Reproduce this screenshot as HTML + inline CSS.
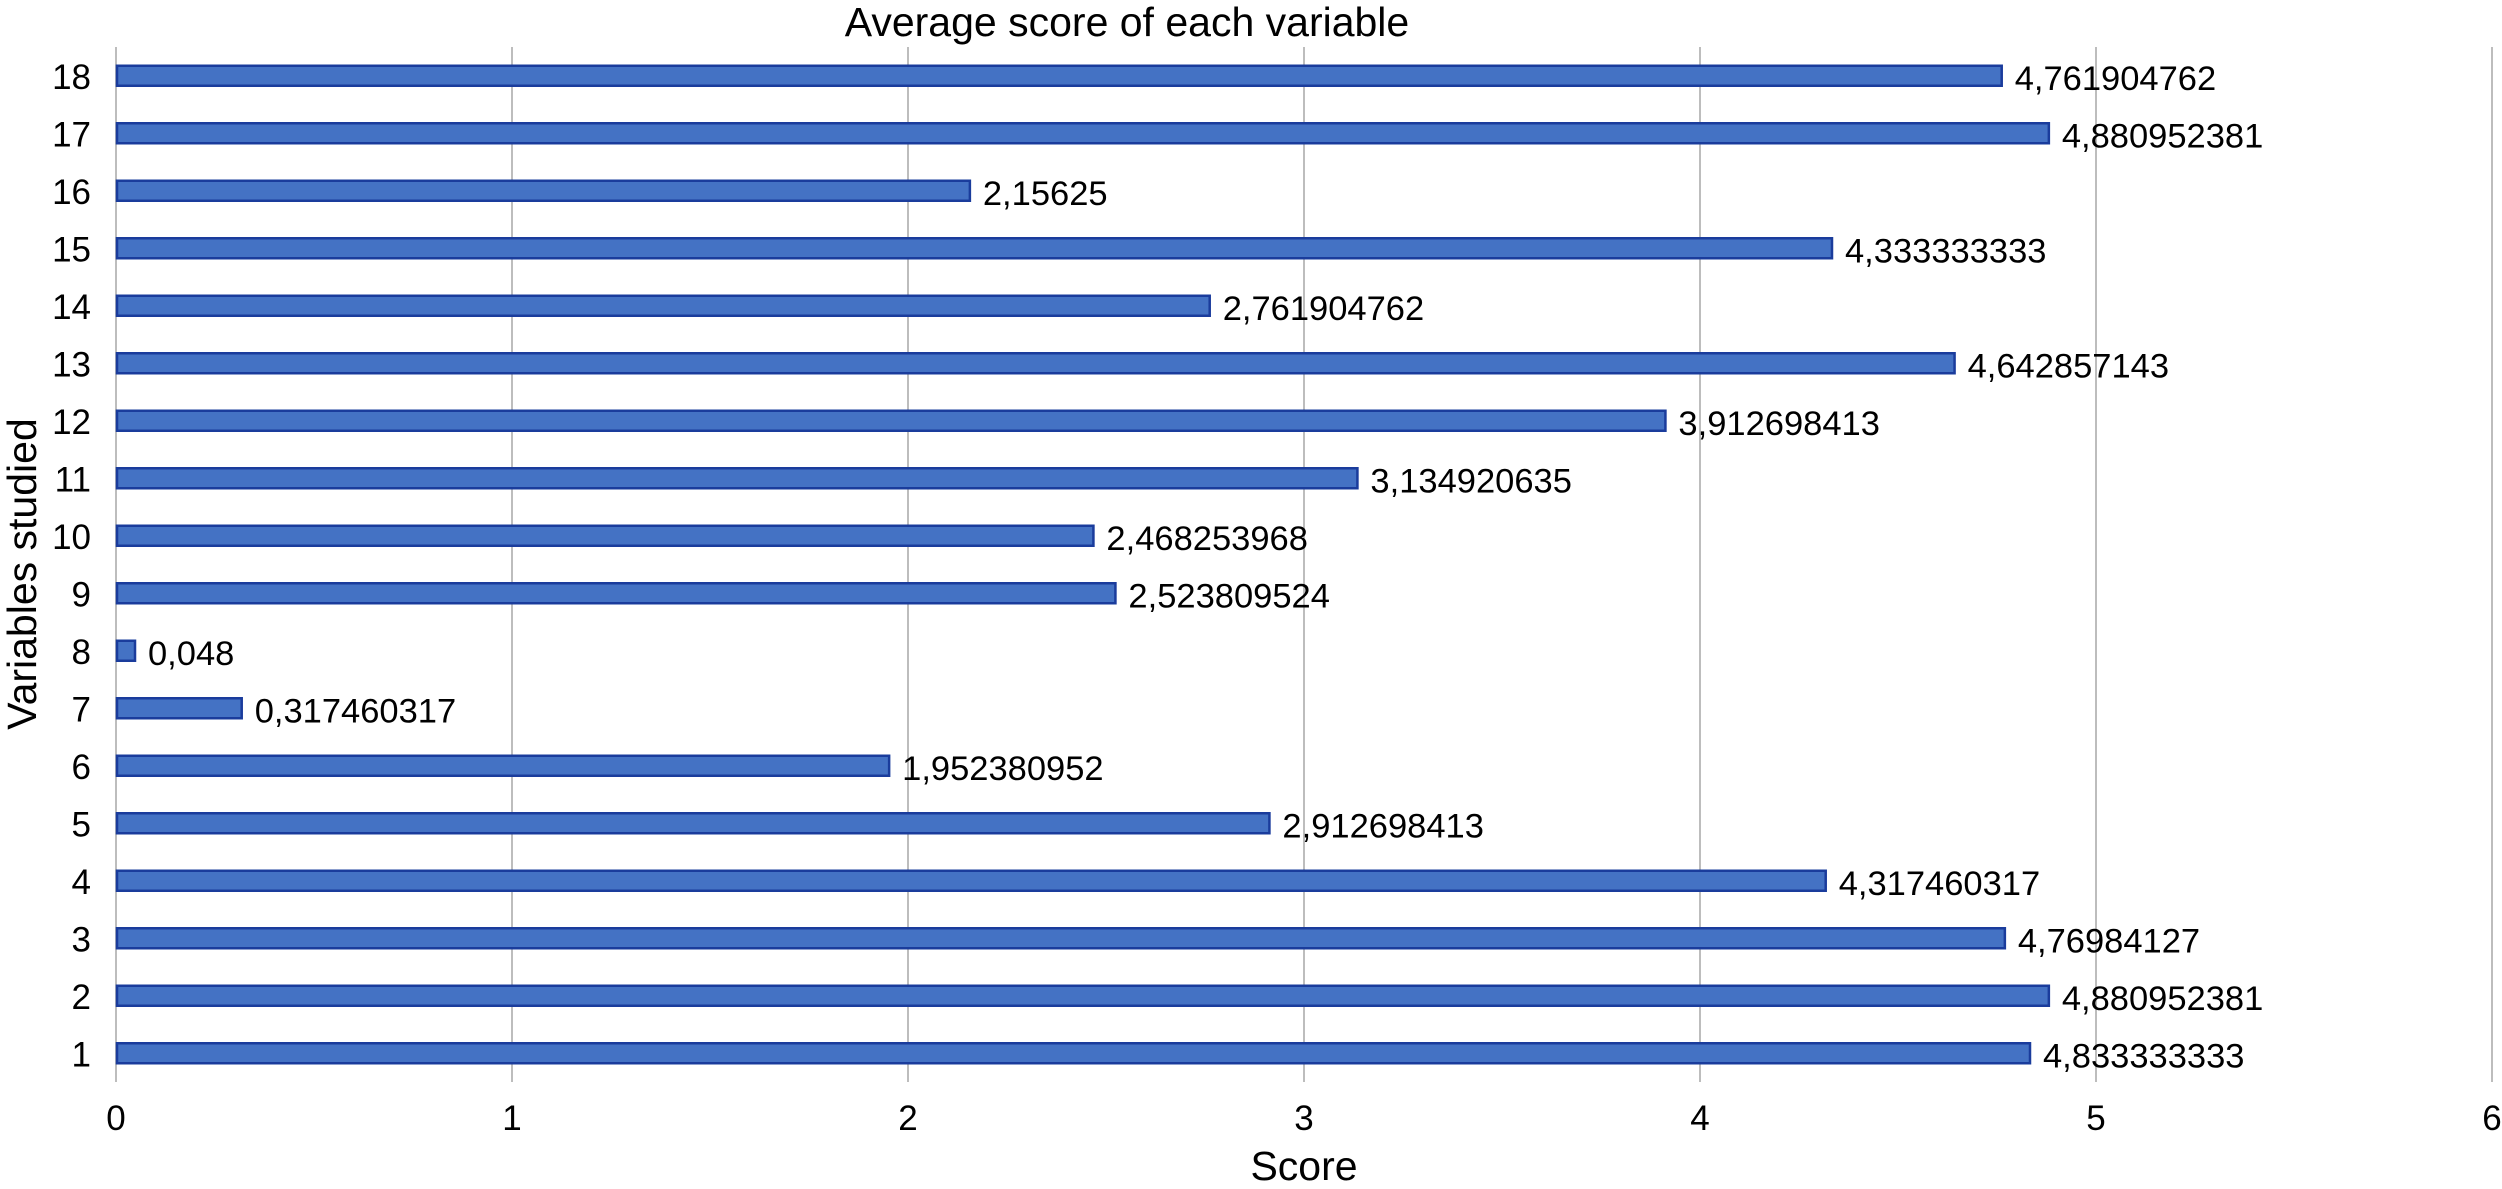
<!DOCTYPE html>
<html><head><meta charset="utf-8"><style>
html,body{margin:0;padding:0;background:#fff;}
svg{display:block;font-family:"Liberation Sans",Arial,sans-serif;}
</style></head><body>
<svg id="chart" width="2502" height="1189" viewBox="0 0 2502 1189" xmlns="http://www.w3.org/2000/svg">
<text x="1127" y="36" font-size="41" text-anchor="middle" fill="#000">Average score of each variable</text>
<text x="1304" y="1180" font-size="41" text-anchor="middle" fill="#000">Score</text>
<text transform="translate(36,574) rotate(-90)" font-size="41" text-anchor="middle" fill="#000">Variables studied</text>
<g id="grid"></g><g id="bars"></g><g id="labels"></g>
</svg>
<script>
const categories = ["1","2","3","4","5","6","7","8","9","10","11","12","13","14","15","16","17","18"];
const values = [4.833333333,4.880952381,4.76984127,4.317460317,2.912698413,1.952380952,0.317460317,0.048,2.523809524,2.468253968,3.134920635,3.912698413,4.642857143,2.761904762,4.333333333,2.15625,4.880952381,4.761904762];
const valueLabels = ["4,833333333","4,880952381","4,76984127","4,317460317","2,912698413","1,952380952","0,317460317","0,048","2,523809524","2,468253968","3,134920635","3,912698413","4,642857143","2,761904762","4,333333333","2,15625","4,880952381","4,761904762"];
const xTicks = [0,1,2,3,4,5,6];

const NS = "http://www.w3.org/2000/svg";
const x0 = 116, xUnit = 396, yTop = 47, yBot = 1082;
const band = (yBot - yTop) / categories.length;
function xScale(v){ return x0 + v * xUnit; }
function yCenter(i){ return yBot - (i + 0.5) * band; }
function mk(tag, attrs){ const e = document.createElementNS(NS, tag); for (const k in attrs) e.setAttribute(k, attrs[k]); return e; }

const grid = document.getElementById('grid');
xTicks.forEach(t => {
  const l = mk('line', {x1: xScale(t), x2: xScale(t), y1: yTop, y2: yBot, stroke: '#bdbdbd', 'stroke-width': 2});
  
  
  grid.appendChild(l);
  const tx = mk('text', {x: xScale(t), y: 1130, 'font-size': 35, 'text-anchor': 'middle', fill: '#000'});
  tx.textContent = String(t);
  
  
  grid.appendChild(tx);
});

const bars = document.getElementById('bars');
const labels = document.getElementById('labels');
categories.forEach((c, i) => {
  const cy = yCenter(i);
  const w = xScale(values[i]) - x0;
  const r = mk('rect', {x: x0 + 1, y: cy - 10, width: Math.max(w - 1, 1), height: 20, fill: '#4472c4', stroke: '#1a3c9c', 'stroke-width': 2.5});
  
  
  bars.appendChild(r);
  const yl = mk('text', {x: 91, y: cy + 13, 'font-size': 35, 'text-anchor': 'end', fill: '#000'});
  yl.textContent = c;
  
  
  labels.appendChild(yl);
  const vl = mk('text', {x: xScale(values[i]) + 13, y: cy + 14, 'font-size': 34.5, fill: '#000'});
  vl.textContent = valueLabels[i];
  
  
  labels.appendChild(vl);
});
</script>
</body></html>
